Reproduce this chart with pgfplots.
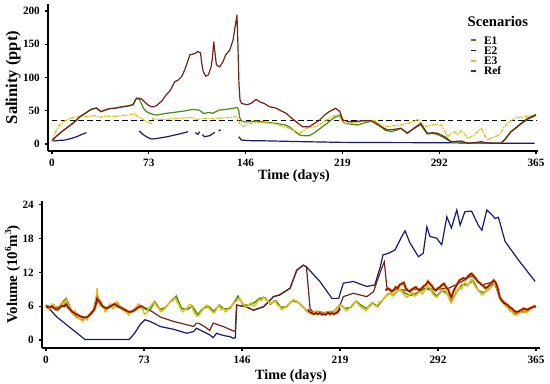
\documentclass[border=0pt]{standalone}
\usepackage{pgfplots}
\usepackage{pgfplotstable}
\pgfplotsset{compat=1.18}
\usepackage{fontspec}
\setmainfont{Liberation Serif}
\definecolor{cE1}{RGB}{70,140,20}
\definecolor{cE2}{RGB}{25,25,110}
\definecolor{cE3}{RGB}{225,190,25}
\definecolor{cRef}{RGB}{110,35,25}
\definecolor{cRed}{RGB}{140,15,10}
\definecolor{cOr}{RGB}{245,150,40}

% ---------------- top: salinity ----------------
\pgfplotstableread{
x y
0 5
3 11
7 18
11 24
15 30
18 35
21 41
25 46
28.6 51
31 53
33.6 54
35.5 51
37 48.6
40 51
43 53
48 54
53 56
57 57
61 59
63.7 68.7
66 69
68 67
71 61
73 58
75 56
77 56
79 58
83 65
86 73.7
89 80
92.6 93.7
95 96
98 102
100 111
102 122
104 134
106 135
107.7 136
110 139
112 137
113 120
114 109
116 102
118 104
120 116
121 130
122 154
123 135
124 119
126.5 116
129 124
131 134
134 141
136.5 156
138 175
139.5 194
140.2 150
141 90
141.8 66
143 61
147 59
150 61
154 67
157 63
160 61
164 56
166.6 55
169 54
171.7 51
176.7 46
180 40
184 33.6
189 26
194 26
198 31
201.8 36
205.6 43.6
209 48.6
214 53.6
215.6 51
217 49
219.4 36
223 34
228 33.6
234 35
240.7 35
243 32
248 26
253 21
258 22
263 23.6
268 16
273 24
278 31
283 16
287 17
291 16
296 11
301 3.5
305 4
308.5 4.5
313.5 1
318 2
323.6 3.5
328 1.5
333 1
338.6 1
342 8
346 18.5
350 25
353.7 31
358.7 38.6
365 44
}\SRef

\pgfplotstableread{
x y
0 5
3 11
7 18
11 24
15 30
18 35
21 41
25 46
28.6 51
31 53
33.6 54
35.5 51
37 48.6
40 51
43 53
48 54
53 56
57 57
61 59
63.7 68.7
66 67
69 53.6
71 49
74 46
77 44
79 43.6
83 45
86 46
90 47
96 48.6
101 50
106 52
111 51
113 48
114 46
119 47.5
121 46
126 51
131 52
136.5 53.6
139.5 55
140.8 51
141.5 40
142.8 34.6
146 33
154 34.6
160 33
169 31
175 29
179 26
183 19
186.7 13.5
190 12.5
194 12.5
198 17
204 26
208 32
212 38.6
217 43.6
218 38.6
220.6 31
225 30
230.6 28.6
236 32
243 35
247 28
251 21
256 18.5
260 21
263 23.6
268 17
273 23
278 29
283 15
287 16
291 14
296 9
301 3
305 3.5
310 2.5
318 1.5
328 1
338.6 1
342 8
346 18
350 24
353.7 30
358.7 37
365 43
}\SEone

\pgfplotstableread{
x y
0 5
2 15
3.5 21
5 27
7.3 31
10 35
13.5 38.6
17 40
20 41
24 42
28 41
32 42.6
36 40
40 42
45 41
50 42
54 43
57.5 43.6
60 44
62.5 46
64 42
67.5 38.6
70 35
73 32
75 31
76 38
80 37
85 37
90 38
95 38.6
100 39
105 40
108 37
111 37.5
116.5 38.6
122 38
128 39
134 40
139 41
140.8 33.6
142 30
144 26
146 28.6
150 31
154 32.6
160 32
166.6 31
172 28
179 23.6
183 20
186.7 16
189 19
191.8 23.6
195 25
199 26
204 32
209 38.6
214 43.6
216 44
218 36
220.6 31
226 32
233 33.6
238 34
243 35.6
247 30
251 26
256 27
263 28.6
268 31
273 33.6
276 37.6
279 30
281 26
286 28.6
290 29
293.5 28.6
296 20
298.5 11
301 16
303.5 18.5
306 14
308.5 20
311 16
313.5 8.5
316 11
318.5 13.5
321 19
323.6 23.6
326 14
328.5 6
331 9
333.6 11
337.3 13.5
341 26
345 33
348.6 38.6
352 40
356 41
360 42
365 44
}\SEthree

\pgfplotstableread{
x y
1 4.5
5 5.2
9.8 6
14 8
18.6 11
22 14
26 17
}\STwoA
\pgfplotstableread{
x y
65.7 19.5
68 15.5
70 12.5
72.5 9.5
75 7.5
78 8
82.6 9.5
87 11
92.6 13.5
97 15.5
102.6 18.5
}\STwoB
\pgfplotstableread{
x y
108 17
110 14.6
111.4 18.5
}\STwoC
\pgfplotstableread{
x y
113.5 14
115 11
119 12.5
122.7 17.5
}\STwoD
\pgfplotstableread{
x y
125.5 20
127.5 21
}\STwoE
\pgfplotstableread{
x y
140.8 11
142.8 6
150 5
160 4.8
166.6 4.5
190 3.5
217 2.5
240 2.2
280 2
320 1.5
364 1
}\STwoF

% ---------------- bottom: volume ----------------
\pgfplotstableread{
x y
0 6.2
8 4.1
29 0.1
62 0.1
66 1.2
70 2.7
73.8 3.6
77.5 3.3
85 2.4
95 1.9
104.8 1.2
110 1.5
112 2.1
117 1.5
122 0.9
124.5 0.4
127 1.2
132 0.8
137 0.6
139.6 0.3
141 0.4
142 6.2
149 5.9
154.5 5.3
162 5.9
169.4 7.7
174 8.0
181.8 9.2
186.8 12.4
191.7 13.3
194 13.0
204 10.4
213 7.4
218 7.4
221.5 10.1
229 10.4
239 9.5
245 9.8
249 13.0
251 15.1
255 15.4
260 16
265 18.4
267.5 19.4
271 17.3
277.4 14.8
281 15.4
283.7 20.1
286 18.4
291 18.1
294.8 16.9
298.6 21.9
302 19.9
306 23.1
308.5 20.4
312 22.8
317 22.9
322 20.4
324.7 19.5
328.4 23.1
332 22.3
334.6 21.6
337 21.8
342 17.5
352 14.2
364.4 10.4
}\VTwo

\pgfplotstableread{
x y
0 6.0
5 5.9
10 5.8
14 6.2
18 5.4
22 4.7
26 4.2
30 4.0
34 4.6
38 6.8
42 6.0
46 5.6
50 6.2
54 5.8
58 5.5
62 5.0
66 5.2
70 6.2
73 5.8
77.5 5.3
85 4.1
95 3.3
105 2.7
110 2.4
112 3.0
113.5 3.0
118 2.4
122 1.7
124.5 3.0
132 2.4
139.6 1.6
141 1.6
142 6.2
149 5.9
154.5 5.3
162 5.9
169.4 7.7
174 8.0
181.8 9.2
186.8 12.4
191.7 13.3
194 13.0
196.7 5.6
199 4.9
209 4.9
216.6 4.7
221.5 7.7
229 8.3
239 7.7
244 8.6
249 12.1
252 13.9
254 9.2
256 8.8
260 9.0
270 8.8
280 9.2
290 9.0
300 9.2
310 10.4
317 11.4
325 9.8
334 10.4
338 7.6
344 6.2
350 5.0
357 5.5
365 6.0
}\VRef

\pgfplotstableread{
x y
0 6.2
4 5.8
8 5.4
12 6.6
15 7.4
19 5.2
23 4.0
27 3.6
31 4.2
35 5.2
38 8.0
41 6.4
45 5.4
49 6.2
53 6.6
57 5.4
61 4.9
65 5.2
69 6.2
73 5.6
77 5.2
81 6.8
85 5.4
89 5.8
93 6.9
97 7.8
101 5.6
105 5.4
109 6.0
113 4.5
117 5.6
121 6.0
125 5.1
129 6.2
133 5.5
137 5.6
141 7.0
143 7.8
147 6.2
151 6.2
155 6.6
159 7.4
163 7.5
167 6.4
171 7.0
175 5.8
179 5.9
183 6.9
187 6.8
191 6.0
195 5.0
199 4.7
203 5.1
207 4.8
211 4.9
215 5.2
219 6.3
223 5.6
227 5.8
231 6.9
235 6.1
239 5.6
243 6.6
247 6.0
251 7.2
255 8.2
259 8.0
263 9.0
267 8.4
271 7.9
275 8.2
279 8.7
283 9.2
287 8.8
291 7.8
295 8.8
299 8.2
302 6.8
306 8.6
310 9.8
314 9.8
318 10.6
322 8.8
326 8.4
330 9.0
334 10.2
338 7.6
342 6.2
346 5.2
350 4.6
354 5.0
358 5.0
362 5.8
365 6.0
}\VEone

\pgfplotstableread{
x y
0 6.0
1.5 5.5
3 5.6
4.5 6.4
6 6.3
7.5 5.4
9 5.2
10.5 6.1
12 6.8
13.5 6.4
15 7.2
16 6.6
17 6.0
18.5 5.0
20 4.6
21.5 5.2
23 4.2
24.5 3.8
26 3.6
27.5 3.3
29 3.9
30.5 3.6
32 4.4
33.5 4.8
35 5.0
36 6.0
37 6.5
38 9.2
39 7.0
40 6.2
41 6.8
42 6.0
43 5.8
44 5.0
45 5.2
46.5 6.0
48 6.4
49.5 5.6
51 5.8
52.5 6.8
54 6.5
55.5 5.8
57 5.6
58.5 5.0
60 5.0
61.5 4.4
63 4.8
64.5 5.4
66 5.6
67.5 6.0
69 6.4
70.5 5.8
72 5.4
73.5 4.6
75 4.8
76.5 5.6
78 6.0
79.5 6.6
81 6.6
82.5 6.0
84 5.6
85.5 5.0
87 5.2
88.5 5.6
90 6.0
91.5 6.5
93 6.8
94.5 7.0
96 7.5
97.5 6.8
99 6.2
100.5 5.4
102 5.0
103.5 5.4
105 5.6
106.5 6.2
108 6.3
109.5 5.4
111 4.6
112.5 4.2
114 4.4
115.5 5.0
117 5.4
118.5 6.0
120 6.2
121.5 5.6
123 5.3
124.5 4.8
126 5.0
127.5 5.8
129 6.1
130.5 5.4
132 5.7
133.5 5.0
135 5.2
136.5 5.8
138 6.0
139.5 6.4
141 6.8
142.5 7.0
144 7.4
145.5 6.8
147 6.4
148.5 5.8
150 6.0
151.5 6.4
153 6.6
154.5 6.0
156 6.2
157.5 6.8
159 7.2
160.5 7.0
162 7.6
163.5 7.2
165 7.0
166.5 6.6
168 6.4
169.5 6.9
171 6.8
172.5 6.2
174 6.0
175.5 5.4
177 5.6
178.5 6.0
180 6.2
181.5 6.6
183 6.8
184.5 7.2
186 7.0
187.5 6.6
189 6.4
190.5 6.0
192 5.8
193.5 5.2
195 5.0
196.5 4.8
198 4.6
199.5 5.0
201 5.2
202.5 4.8
204 5.0
205.5 4.6
207 4.6
208.5 5.0
210 5.0
211.5 4.4
213 4.7
214.5 5.2
216 5.3
217.5 5.8
219 6.2
220.5 6.0
222 5.7
223.5 5.2
225 5.4
226.5 5.8
228 6.2
229.5 6.6
231 6.8
232.5 6.4
234 6.0
235.5 5.6
237 5.5
238.5 5.2
240 5.8
241.5 6.0
243 6.5
244.5 6.2
246 6.0
247.5 6.4
249 6.8
250.5 7.0
252 7.5
253.5 7.8
255 8.0
256.5 8.4
258 7.8
259.5 8.0
261 8.4
262.5 8.8
264 9.0
265.5 8.4
267 8.0
268.5 7.6
270 7.8
271.5 8.2
273 8.4
274.5 7.8
276 8.0
277.5 8.4
279 8.6
280.5 8.2
282 8.8
283.5 9.2
285 9.6
286.5 9.0
288 8.2
289.5 7.8
291 7.6
292.5 8.0
294 8.4
295.5 8.8
297 9.0
298.5 8.4
300 7.6
301 6.9
302 6.6
303.5 7.4
305 8.0
306.5 8.8
308 9.4
309.5 9.0
311 10.0
312.5 10.2
314 9.6
315.5 10.2
317 10.8
318.5 10.0
320 9.4
321.5 9.0
323 8.6
324.5 8.0
326 8.2
327.5 8.6
329 8.8
330.5 9.2
332 9.4
333.5 9.8
335 10.2
336.5 9.0
338 7.8
339.5 7.0
341 6.6
342.5 6.0
344 5.6
345.5 5.4
347 5.0
348.5 4.6
350 4.4
351.5 4.6
353 4.8
354.5 5.4
356 5.2
357.5 4.8
359 5.0
360.5 5.4
362 5.6
363.5 6.2
365 6.0
}\VEthree

\pgfplotstableread{
x y
0 6.0
1.5 5.8
3 5.8
4.5 6.0
6 5.7
7.5 5.4
9 5.5
10.5 5.8
12 6.1
13.5 6.0
15 6.4
16.5 5.8
18 5.4
19.5 5.0
21 4.8
22.5 4.6
24 4.4
25.5 4.2
27 4.1
28.5 4.0
30 4.0
31.5 4.2
33 4.6
34.5 5.0
36 5.4
37 6.2
38 7.4
39 7.0
40 6.8
41 6.4
42 6.0
43.5 5.8
45 5.6
46.5 5.8
48 6.0
49.5 6.2
51 6.4
52.5 6.2
54 5.9
55.5 5.8
57 5.6
58.5 5.4
60 5.2
61.5 5.0
63 5.0
64.5 5.1
66 5.3
67.5 5.6
69 5.8
70.5 6.0
72 5.9
}\VRedA
\pgfplotstableread{
x y
195 5.4
196.5 5.0
198 4.8
199.5 4.6
201 4.8
202.5 4.6
204 4.8
205.5 4.5
207 4.6
208.5 4.5
210 4.9
211.5 4.6
213 4.8
214.5 4.6
216 4.8
217.5 5.0
219 5.6
}\VRedB
\pgfplotstableread{
x y
253 8.8
254.5 9.2
256 9.0
257.5 8.6
259 8.8
260.5 9.4
262 9.2
263.5 9.8
265 10.0
266.5 10.2
268 9.2
269.5 8.8
271 8.6
272.5 9.0
274 9.2
275.5 9.4
277 9.0
278.5 8.8
280 9.2
281.5 9.6
283 9.8
284.5 10.4
286 10.0
287.5 9.6
289 9.0
290.5 8.8
292 9.2
293.5 9.4
295 9.8
296.5 10.0
298 9.4
299.5 9.0
301 8.0
302 7.6
303.5 8.6
305 9.4
306.5 10.0
308 10.6
309.5 10.8
311 11.0
312.5 10.8
314 11.2
315.5 11.6
317 11.8
318.5 11.4
320 11.0
321.5 10.4
323 10.2
324.5 9.8
326 9.6
327.5 9.2
329 9.4
330.5 9.8
332 10.2
333.5 10.6
335 10.2
336.5 9.2
338 7.6
339.5 7.0
341 6.6
342.5 6.4
344 6.2
345.5 5.8
347 5.6
348.5 5.2
350 5.0
351.5 5.0
353 5.2
354.5 5.4
356 5.6
357.5 5.4
359 5.4
360.5 5.6
362 5.8
363.5 5.9
365 6.0
}\VRedC

\pgfplotsset{
  myaxis/.style={
    scale only axis,
    axis x line=bottom, axis y line=left,
    axis line style={-, line width=0.8pt, black},
    tick align=outside,
    major tick length=2.6pt,
    tick style={line width=0.8pt, black},
    xtick={0,73,146,219,292,365},
    /pgf/number format/assume math mode=true,
    ticklabel style={font=\bfseries\fontsize{8.4}{9}\selectfont},
    scaled ticks=false,
    xlabel={Time (days)},
  }
}

\begin{document}
\begin{tikzpicture}
\useasboundingbox (0,0) rectangle (412.5pt,288pt);

% ---------- top axis ----------
\begin{axis}[myaxis,
  at={(36pt,174.75pt)}, anchor=south west,
  width=367.5pt, height=110.25pt,
  xmin=-3, xmax=366.5, ymin=-10.5, ymax=210.5,
  ytick={0,50,100,150,200},
  ylabel={Salinity (ppt)},
  xlabel style={at={(axis description cs:0.502,-0.17)}, anchor=center, font=\bfseries\fontsize{10.6}{12}\selectfont},
  ylabel style={at={(axis description cs:-0.071,0.5)}, anchor=center, font=\bfseries\fontsize{12.4}{14}\selectfont},
  legend style={draw=none, fill=none, at={(axis description cs:0.861,0.79)}, anchor=north west,
    inner sep=0pt, row sep=0pt, column sep=5.5pt,
    font=\bfseries\fontsize{8.6}{8.6}\selectfont,
    nodes={text height=5.8pt, text depth=0pt, inner ysep=0.95pt, inner xsep=0pt},
    cells={anchor=west}},
  legend image code/.code={\draw[#1, line width=1.3pt] (0pt,0pt) -- (3.6pt,0pt);},
]
\addlegendimage{cE1}
\addlegendimage{cE2}
\addlegendimage{cE3}
\addlegendimage{cRef}
\legend{E1,E2,E3,Ref}

\addplot[forget plot, black, dashed, dash pattern=on 4pt off 2.6pt, line width=0.9pt] coordinates {(0,35) (365,35)};
\addplot[forget plot, cE2, line width=0.9pt] table {\STwoA};
\addplot[forget plot, cE2, line width=0.9pt] table {\STwoB};
\addplot[forget plot, cE2, line width=0.9pt] table {\STwoC};
\addplot[forget plot, cE2, line width=0.9pt] table {\STwoD};
\addplot[forget plot, cE2, line width=0.9pt] table {\STwoE};
\addplot[forget plot, cE2, line width=0.9pt] table {\STwoF};
\addplot[forget plot, cE1, line width=0.9pt] table {\SEone};
\addplot[forget plot, cE3, line width=0.9pt, dash pattern=on 3pt off 0.8pt on 1pt off 0.8pt] table {\SEthree};
\addplot[forget plot, cRef, line width=0.9pt] table {\SRef};

\node[font=\bfseries\fontsize{11}{12}\selectfont, anchor=base] at (axis description cs:0.918,0.846) {Scenarios};
\end{axis}

% ---------- bottom axis ----------
\begin{axis}[myaxis,
  at={(31.5pt,27pt)}, anchor=south west,
  width=373.5pt, height=110.25pt,
  xmin=-3, xmax=368, ymin=-1.42, ymax=24.7,
  ytick={0,6,12,18,24},
  ylabel={Volume (10\raisebox{0.9ex}{\fontsize{7}{7}\selectfont 6}m\raisebox{0.9ex}{\fontsize{7}{7}\selectfont 3})},
  xlabel style={at={(axis description cs:0.5,-0.19)}, anchor=center, font=\bfseries\fontsize{10.6}{12}\selectfont},
  ylabel style={at={(axis description cs:-0.059,0.5)}, anchor=center, font=\bfseries\fontsize{11.2}{13}\selectfont},
]
\addplot[cE2, line width=0.9pt] table {\VTwo};
\addplot[cRef, line width=0.9pt] table {\VRef};
\addplot[cE1, line width=1.1pt] table {\VEone};
\addplot[cE3, line width=1.1pt] table {\VEthree};
\addplot[cOr, line width=2.2pt, opacity=0.8] table {\VRedA};
\addplot[cOr, line width=2.2pt, opacity=0.8] table {\VRedB};
\addplot[cOr, line width=2.2pt, opacity=0.8] table {\VRedC};
\addplot[cRed, line width=1.1pt] table {\VRedA};
\addplot[cRed, line width=1.1pt] table {\VRedB};
\addplot[cRed, line width=1.1pt] table {\VRedC};
\end{axis}
\end{tikzpicture}
\end{document}
